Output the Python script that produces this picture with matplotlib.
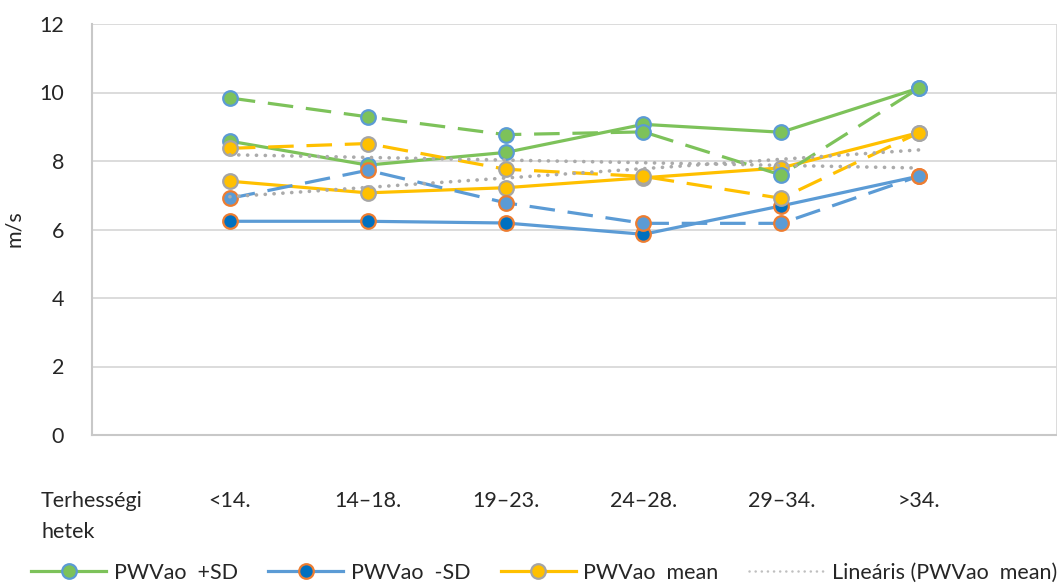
import numpy as np
import matplotlib
matplotlib.use("Agg")
import matplotlib.pyplot as plt
from matplotlib.lines import Line2D

plt.rcParams['font.family'] = ['Lato', 'DejaVu Sans']

# kategoriak (az elso oszlop ures, csak a tengely felirata)
kategoriak = ["Terhességi\nhetek", "<14.", "14–18.", "19–23.", "24–28.", "29–34.", ">34."]

# folytonos vonalak
plus_sd = [np.nan, 8.58, 7.88, 8.25, 9.07, 8.84, 10.13]
minus_sd = [np.nan, 6.24, 6.24, 6.19, 5.86, 6.69, 7.56]
mean = [np.nan, 7.41, 7.07, 7.22, 7.51, 7.80, 8.83]

# szaggatott vonalak
plus_sd_2 = [np.nan, 9.84, 9.29, 8.77, 8.85, 7.59, 10.13]
minus_sd_2 = [np.nan, 6.91, 7.73, 6.78, 6.18, 6.18, 7.56]
mean_2 = [np.nan, 8.37, 8.51, 7.76, 7.55, 6.91, 8.83]

zold = '#7DC25A'
kek = '#5B9BD5'
sotetkek = '#0070C0'
narancs = '#ED7D31'
sarga = '#FFC000'
szurke = '#A5A5A5'
szoveg = '#262626'
fs = 15.5

fig = plt.figure(figsize=(10.57, 5.84), dpi=100)
ax = fig.add_axes([92/1057, 1-435/584, 1-92/1057, (435-24)/584])

x = np.arange(len(kategoriak))
lw = 2.3
ms = 10.5
mew = 1.6
dash = (0, (8, 4))

ax.plot(x, plus_sd, color=zold, lw=lw, marker='o', ms=ms, mfc=zold, mec=kek, mew=mew, zorder=3)
ax.plot(x, minus_sd, color=kek, lw=lw, marker='o', ms=ms, mfc=sotetkek, mec=narancs, mew=mew, zorder=3)
ax.plot(x, mean, color=sarga, lw=lw, marker='o', ms=ms, mfc=sarga, mec=szurke, mew=mew, zorder=3)

ax.plot(x, plus_sd_2, color=zold, lw=lw, ls=dash, marker='o', ms=ms, mfc=zold, mec=kek, mew=mew, zorder=4)
ax.plot(x, minus_sd_2, color=kek, lw=lw, ls=dash, marker='o', ms=ms, mfc=kek, mec=narancs, mew=mew, zorder=4)
ax.plot(x, mean_2, color=sarga, lw=lw, ls=dash, marker='o', ms=ms, mfc=sarga, mec=szurke, mew=mew, zorder=4)

# linearis trendvonalak a ket atlagra
xx = x[1:]
for adat in [mean, mean_2]:
    a, b = np.polyfit(xx, np.array(adat[1:]), 1)
    ax.plot(xx, a*xx + b, color='#ABABAB', lw=2.6, ls=(0, (0.05, 2.4)),
            dash_capstyle='round', zorder=5)

ax.set_xlim(0, 7)
ax.set_ylim(0, 12)
ax.set_yticks(np.arange(0, 13, 2))
ax.set_xticks(x)
ax.set_xticklabels(kategoriak, fontsize=fs, color=szoveg, linespacing=1.7)
ax.get_xticklabels()[0].set_multialignment('left')
ax.tick_params(axis='x', length=0, pad=40)
ax.tick_params(axis='y', length=0, pad=20, labelsize=fs, labelcolor=szoveg)
ax.set_xticks(np.arange(0, 8), minor=True)
ax.tick_params(axis='x', which='minor', length=0)
ax.grid(True, which='major', axis='y', color='#D9D9D9', lw=1.3)
ax.grid(True, which='minor', axis='x', color='#D9D9D9', lw=1.3)
ax.set_axisbelow(True)
for s in ['top', 'right']:
    ax.spines[s].set_visible(False)
ax.spines['left'].set_color('#C8C8C8')
ax.spines['bottom'].set_color('#C8C8C8')
ax.spines['left'].set_linewidth(1.5)
ax.spines['bottom'].set_linewidth(1.5)

fig.text(14/1057, 1-229/584, 'm/s', rotation=90, ha='center', va='center',
         fontsize=fs, color=szoveg)

fogok = [
    Line2D([], [], color=zold, lw=lw, marker='o', ms=ms, mfc=zold, mec=kek, mew=mew),
    Line2D([], [], color=kek, lw=lw, marker='o', ms=ms, mfc=sotetkek, mec=narancs, mew=mew),
    Line2D([], [], color=sarga, lw=lw, marker='o', ms=ms, mfc=sarga, mec=szurke, mew=mew),
    Line2D([], [], color='#BFBFBF', lw=1.8, ls=(0, (0.05, 2.4)), dash_capstyle='round'),
]
cimkek = ['PWVao  +SD', 'PWVao  -SD', 'PWVao  mean', 'Lineáris (PWVao  mean)']
fig.legend(fogok, cimkek, loc='center', bbox_to_anchor=(544/1057, 1-573/584), ncol=4,
           frameon=False, fontsize=fs, handlelength=3.5, handletextpad=0.35,
           columnspacing=1.4, labelcolor=szoveg, borderaxespad=0, borderpad=0)

fig.savefig('out.png', dpi=100)
